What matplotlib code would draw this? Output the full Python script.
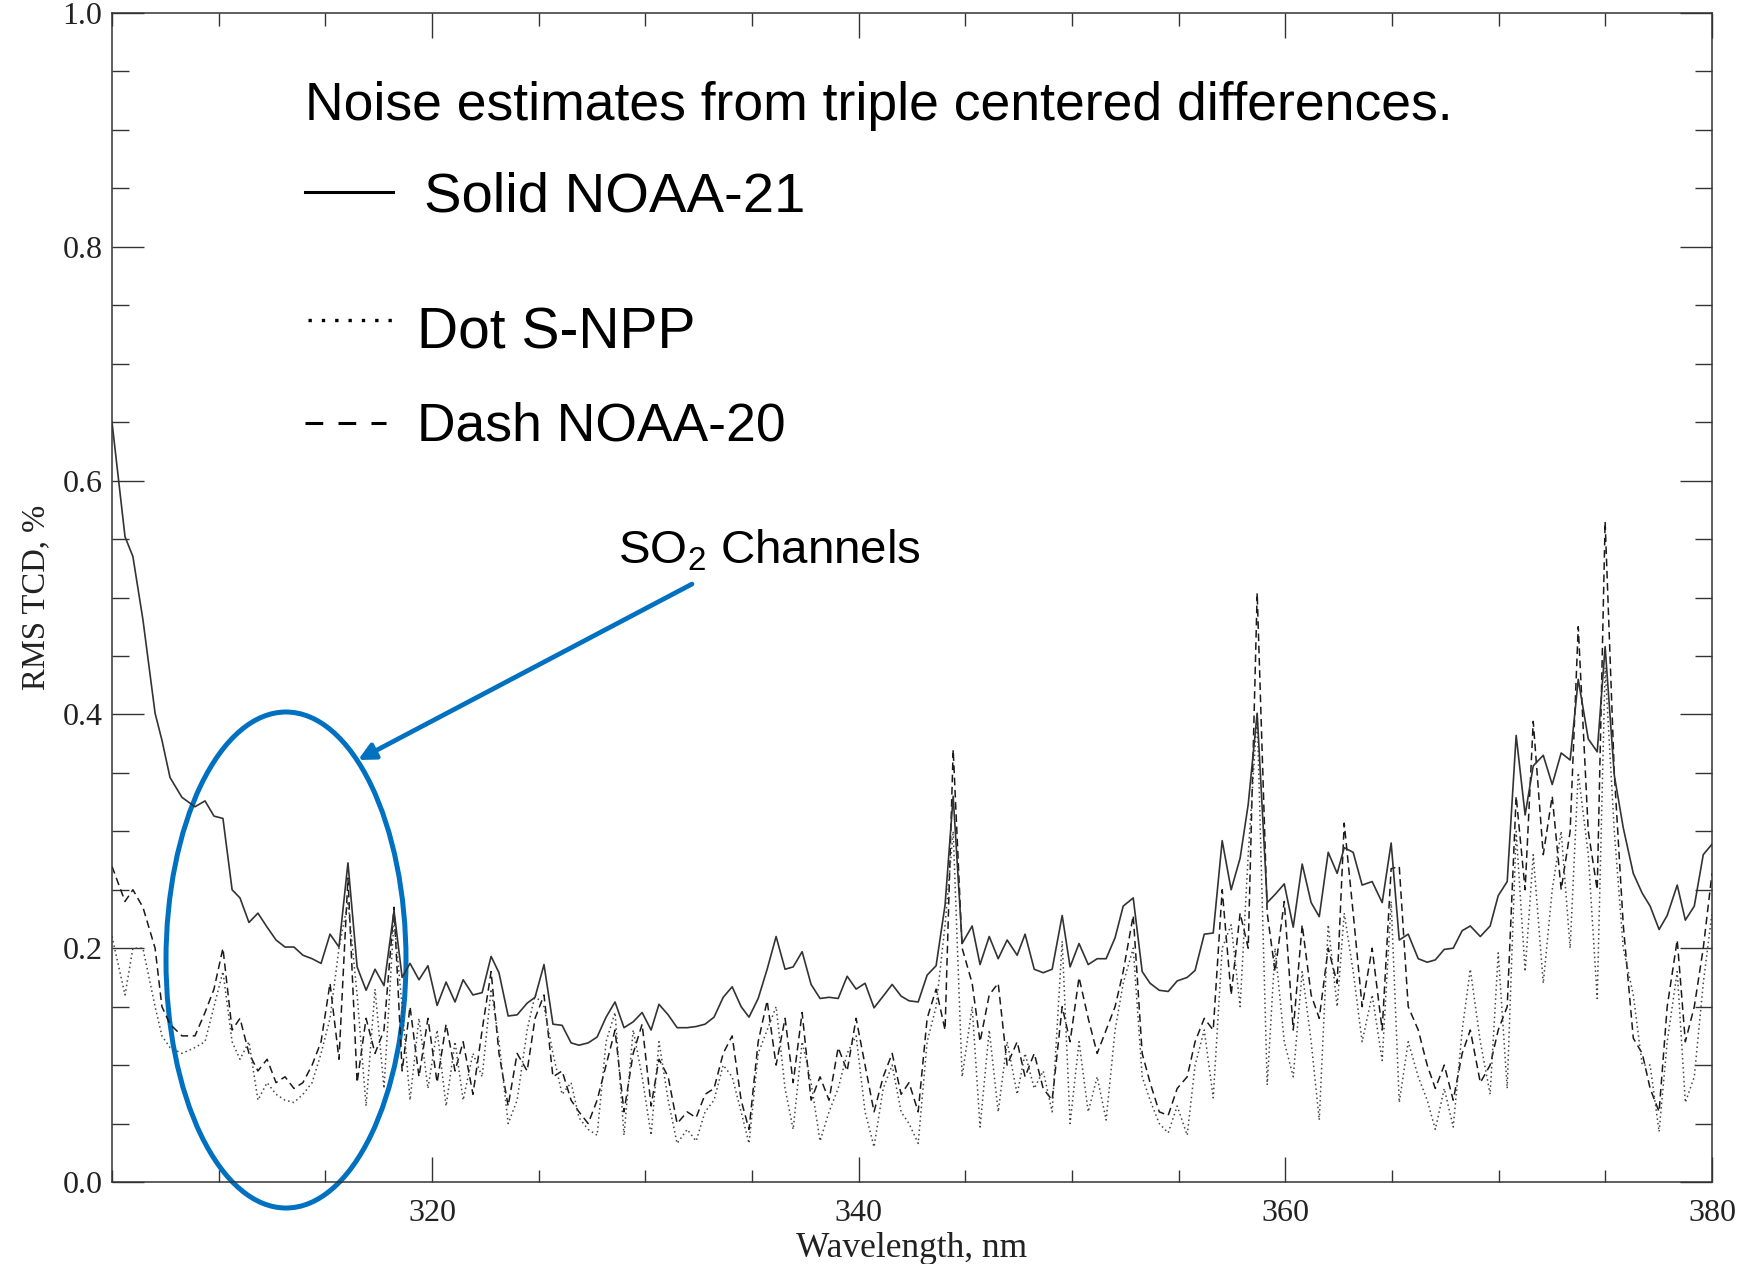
import numpy as np
import matplotlib
matplotlib.use("Agg")
import matplotlib.pyplot as plt
import matplotlib.ticker as ticker
from matplotlib.patches import Ellipse
from matplotlib.lines import Line2D

# ── Datos ─────────────────────────────────────────────────────────────────────
wavelength = [
    305.00, 305.61, 305.98, 306.45, 307.02, 307.34, 307.72, 308.28, 308.89, 309.36,
    309.78, 310.20, 310.63, 311.00, 311.42, 311.84, 312.27, 312.69, 313.11, 313.53,
    313.95, 314.38, 314.80, 315.22, 315.64, 316.06, 316.49, 316.91, 317.33, 317.75,
    318.22, 318.60, 318.97, 319.39, 319.81, 320.24, 320.66, 321.08, 321.46, 321.92,
    322.35, 322.77, 323.14, 323.57, 323.99, 324.46, 324.83, 325.25, 325.67, 326.10,
    326.52, 326.89, 327.32, 327.74, 328.16, 328.58, 329.00, 329.43, 329.85, 330.27,
    330.64, 331.07, 331.49, 331.96, 332.38, 332.80, 333.22, 333.65, 334.07, 334.49,
    334.86, 335.29, 335.71, 336.13, 336.55, 336.93, 337.35, 337.77, 338.19, 338.61,
    339.04, 339.46, 339.88, 340.30, 340.72, 341.15, 341.57, 341.99, 342.36, 342.79,
    343.21, 343.63, 344.05, 344.43, 344.85, 345.32, 345.69, 346.12, 346.54, 346.96,
    347.43, 347.80, 348.23, 348.65, 349.07, 349.54, 349.91, 350.33, 350.76, 351.18,
    351.60, 352.02, 352.40, 352.87, 353.29, 353.66, 354.09, 354.51, 354.93, 355.40,
    355.77, 356.20, 356.62, 357.04, 357.46, 357.88, 358.26, 358.68, 359.15, 359.52,
    359.95, 360.37, 360.79, 361.21, 361.59, 362.01, 362.43, 362.76, 363.18, 363.60,
    364.07, 364.54, 364.96, 365.34, 365.76, 366.23, 366.65, 367.03, 367.45, 367.87,
    368.29, 368.67, 369.14, 369.60, 369.98, 370.40, 370.82, 371.24, 371.62, 372.09,
    372.51, 372.93, 373.35, 373.73, 374.20, 374.62, 374.99, 375.42, 375.84, 376.31,
    376.73, 377.10, 377.52, 377.90, 378.37, 378.75, 379.17, 379.59, 380.00,
]

noaa21 = [
    0.650, 0.552, 0.535, 0.481, 0.401, 0.378, 0.346, 0.329, 0.321, 0.326,
    0.313, 0.311, 0.250, 0.243, 0.222, 0.230, 0.218, 0.207, 0.201, 0.201,
    0.194, 0.191, 0.187, 0.212, 0.201, 0.273, 0.184, 0.164, 0.182, 0.168,
    0.232, 0.175, 0.187, 0.173, 0.185, 0.151, 0.171, 0.154, 0.173, 0.160,
    0.162, 0.193, 0.179, 0.142, 0.143, 0.153, 0.158, 0.186, 0.135, 0.134,
    0.119, 0.117, 0.119, 0.124, 0.141, 0.154, 0.132, 0.137, 0.145, 0.130,
    0.152, 0.143, 0.132, 0.132, 0.133, 0.135, 0.141, 0.158, 0.167, 0.150,
    0.141, 0.157, 0.182, 0.210, 0.182, 0.184, 0.197, 0.169, 0.157, 0.158,
    0.157, 0.176, 0.165, 0.170, 0.149, 0.159, 0.169, 0.159, 0.155, 0.154,
    0.177, 0.185, 0.237, 0.330, 0.204, 0.219, 0.186, 0.210, 0.191, 0.207,
    0.194, 0.212, 0.182, 0.179, 0.182, 0.228, 0.184, 0.204, 0.186, 0.191,
    0.191, 0.209, 0.236, 0.243, 0.180, 0.170, 0.164, 0.163, 0.172, 0.175,
    0.181, 0.212, 0.213, 0.292, 0.250, 0.277, 0.323, 0.401, 0.239, 0.246,
    0.255, 0.218, 0.272, 0.239, 0.227, 0.282, 0.264, 0.286, 0.282, 0.254,
    0.257, 0.239, 0.290, 0.207, 0.212, 0.191, 0.188, 0.190, 0.199, 0.200,
    0.215, 0.219, 0.210, 0.219, 0.245, 0.257, 0.382, 0.314, 0.356, 0.365,
    0.340, 0.367, 0.361, 0.430, 0.379, 0.368, 0.458, 0.348, 0.303, 0.264,
    0.247, 0.236, 0.216, 0.228, 0.254, 0.224, 0.236, 0.280, 0.289,
]

noaa20 = [
    0.270, 0.240, 0.250, 0.235, 0.200, 0.150, 0.135, 0.125, 0.125, 0.145,
    0.165, 0.200, 0.130, 0.140, 0.110, 0.095, 0.105, 0.085, 0.090, 0.080,
    0.085, 0.100, 0.120, 0.170, 0.105, 0.260, 0.085, 0.140, 0.110, 0.130,
    0.235, 0.095, 0.150, 0.090, 0.140, 0.085, 0.135, 0.095, 0.120, 0.075,
    0.130, 0.180, 0.110, 0.065, 0.110, 0.095, 0.140, 0.160, 0.090, 0.095,
    0.070, 0.060, 0.050, 0.070, 0.100, 0.130, 0.060, 0.110, 0.135, 0.065,
    0.105, 0.090, 0.050, 0.060, 0.055, 0.075, 0.080, 0.110, 0.125, 0.070,
    0.045, 0.120, 0.155, 0.100, 0.140, 0.085, 0.145, 0.070, 0.090, 0.070,
    0.115, 0.095, 0.140, 0.100, 0.060, 0.090, 0.110, 0.075, 0.085, 0.060,
    0.140, 0.165, 0.130, 0.370, 0.200, 0.170, 0.120, 0.160, 0.170, 0.100,
    0.120, 0.090, 0.110, 0.080, 0.070, 0.150, 0.120, 0.175, 0.140, 0.110,
    0.130, 0.150, 0.180, 0.228, 0.110, 0.085, 0.060, 0.057, 0.080, 0.090,
    0.120, 0.140, 0.130, 0.250, 0.160, 0.230, 0.200, 0.504, 0.230, 0.180,
    0.240, 0.130, 0.220, 0.160, 0.140, 0.200, 0.170, 0.307, 0.230, 0.150,
    0.200, 0.130, 0.268, 0.270, 0.150, 0.130, 0.100, 0.080, 0.100, 0.070,
    0.110, 0.130, 0.085, 0.100, 0.130, 0.150, 0.330, 0.250, 0.394, 0.280,
    0.330, 0.250, 0.300, 0.475, 0.300, 0.250, 0.565, 0.350, 0.220, 0.123,
    0.110, 0.080, 0.060, 0.150, 0.207, 0.120, 0.150, 0.200, 0.264,
]

snpp = [
    0.210, 0.160, 0.200, 0.200, 0.150, 0.125, 0.115, 0.110, 0.115, 0.120,
    0.150, 0.180, 0.120, 0.105, 0.120, 0.070, 0.085, 0.075, 0.070, 0.068,
    0.075, 0.085, 0.110, 0.140, 0.200, 0.240, 0.160, 0.065, 0.165, 0.080,
    0.225, 0.150, 0.070, 0.140, 0.080, 0.130, 0.065, 0.120, 0.070, 0.110,
    0.090, 0.165, 0.120, 0.050, 0.070, 0.130, 0.160, 0.150, 0.110, 0.075,
    0.085, 0.055, 0.045, 0.040, 0.120, 0.145, 0.040, 0.130, 0.090, 0.040,
    0.120, 0.070, 0.033, 0.045, 0.035, 0.060, 0.070, 0.100, 0.090, 0.060,
    0.033, 0.110, 0.130, 0.150, 0.080, 0.045, 0.120, 0.085, 0.035, 0.060,
    0.080, 0.110, 0.125, 0.060, 0.030, 0.080, 0.100, 0.060, 0.050, 0.033,
    0.120, 0.150, 0.220, 0.300, 0.090, 0.150, 0.047, 0.130, 0.060, 0.120,
    0.075, 0.110, 0.080, 0.095, 0.060, 0.206, 0.050, 0.120, 0.060, 0.090,
    0.053, 0.130, 0.170, 0.200, 0.090, 0.070, 0.050, 0.042, 0.065, 0.040,
    0.100, 0.130, 0.072, 0.200, 0.220, 0.150, 0.280, 0.400, 0.083, 0.200,
    0.120, 0.090, 0.180, 0.120, 0.053, 0.220, 0.150, 0.230, 0.180, 0.120,
    0.160, 0.104, 0.240, 0.068, 0.120, 0.090, 0.070, 0.045, 0.080, 0.047,
    0.130, 0.182, 0.120, 0.075, 0.196, 0.080, 0.300, 0.180, 0.280, 0.170,
    0.250, 0.300, 0.200, 0.350, 0.280, 0.157, 0.440, 0.300, 0.200, 0.160,
    0.100, 0.100, 0.043, 0.120, 0.180, 0.068, 0.090, 0.170, 0.230,
]

x_ticks = [320, 340, 360, 380]
y_ticks = [0.0, 0.2, 0.4, 0.6, 0.8, 1.0]

BLUE = '#0070C0'
serif = ['Liberation Serif', 'DejaVu Serif']
sans = ['Liberation Sans', 'DejaVu Sans']
plt.rcParams['mathtext.fontset'] = 'custom'
plt.rcParams['mathtext.rm'] = 'Liberation Sans'

# ── Figura ────────────────────────────────────────────────────────────────────
fig = plt.figure(figsize=(17.45, 12.64), dpi=100)
ax = fig.add_axes([112 / 1745, 1 - 1182 / 1264, 1600 / 1745, 1169 / 1264])

ax.plot(wavelength, noaa20, color='#1a1a1a', lw=1.1, ls=(0, (5, 3)))
ax.plot(wavelength, snpp, color='#444444', lw=1.1, ls=(0, (1, 2)))
ax.plot(wavelength, noaa21, color='#333333', lw=1.2, ls='-')

ax.set_xlim(305, 380)
ax.set_ylim(0, 1)
ax.set_xticks(x_ticks)
ax.set_yticks(y_ticks)
ax.xaxis.set_minor_locator(ticker.MultipleLocator(5))
ax.yaxis.set_minor_locator(ticker.MultipleLocator(0.05))
ax.yaxis.set_major_formatter(ticker.FormatStrFormatter('%.1f'))

ax.tick_params(axis='x', which='major', direction='in', length=18, width=1.0,
               top=True, bottom=True, pad=12, color='#333333')
ax.tick_params(axis='x', which='minor', direction='in', length=9, width=1.0,
               top=True, bottom=True, color='#333333')
ax.tick_params(axis='y', which='major', direction='in', length=23, width=1.0,
               left=True, right=True, pad=7, color='#333333')
ax.tick_params(axis='y', which='minor', direction='in', length=12, width=1.0,
               left=True, right=True, color='#333333')
for lab in ax.get_xticklabels() + ax.get_yticklabels():
    lab.set_family(serif)
    lab.set_fontsize(23)
    lab.set_color('#222222')
for sp in ax.spines.values():
    sp.set_linewidth(1.1)
    sp.set_color('#333333')

ax.set_xlabel('Wavelength, nm', family=serif, fontsize=25.5, color='#222222', labelpad=3)
ax.set_ylabel('RMS TCD, %', family=serif, fontsize=23.5, color='#222222', labelpad=8)

# ── Anotaciones ───────────────────────────────────────────────────────────────
tr = ax.transAxes
ax.text(0.1206, 0.9085, 'Noise estimates from triple centered differences.',
        transform=tr, family=sans, fontsize=38.5, va='baseline', ha='left')

ax.add_line(Line2D([0.1206, 0.1756], [0.8473, 0.8473], transform=tr,
                   color='black', lw=2.2, ls='-'))
ax.text(0.195, 0.8302, 'Solid NOAA-21', transform=tr, family=sans,
        fontsize=40.5, va='baseline', ha='left')

ax.add_line(Line2D([0.1225, 0.179], [0.737, 0.737], transform=tr,
                   color='black', lw=2.4, ls=(0, (1, 3))))
ax.text(0.1906, 0.7134, 'Dot S-NPP', transform=tr, family=sans,
        fontsize=41, va='baseline', ha='left')

ax.add_line(Line2D([0.1206, 0.171], [0.649, 0.649], transform=tr,
                   color='black', lw=2.2, ls=(0, (5.8, 5))))
ax.text(0.1906, 0.6339, 'Dash NOAA-20', transform=tr, family=sans,
        fontsize=38.5, va='baseline', ha='left')

ax.text(0.316, 0.5295, r'SO$_{\mathregular{2}}$ Channels', transform=tr,
        family=sans, fontsize=34.2, va='baseline', ha='left')

ax.annotate('', xy=(0.1538, 0.361), xytext=(0.3625, 0.5115),
            xycoords=tr, textcoords=tr,
            arrowprops=dict(arrowstyle='-|>,head_length=1.0,head_width=0.5',
                            color=BLUE, lw=3.4, shrinkA=0, shrinkB=0))

ax.add_patch(Ellipse((0.10875, 0.1899), 0.150, 0.4243, transform=tr,
                     fill=False, edgecolor=BLUE, lw=3.6, clip_on=False))

fig.savefig('out.png', dpi=100)
